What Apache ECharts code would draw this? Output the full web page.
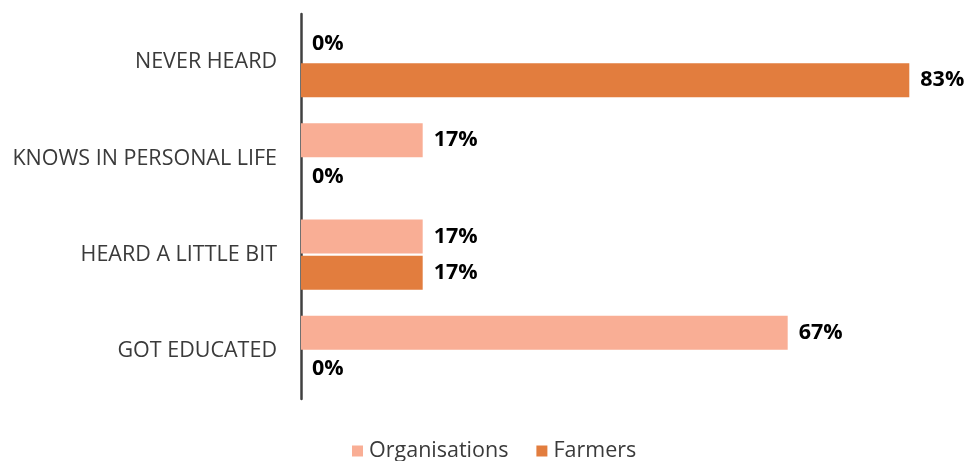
<!DOCTYPE html>
<html>
<head>
<meta charset="utf-8">
<script src="https://cdn.jsdelivr.net/npm/echarts@6/dist/echarts.min.js"></script>
<style>
html,body{margin:0;padding:0;background:#fff;}
#chart{width:965px;height:461px;}
</style>
</head>
<body>
<div id="chart"></div>
<script>
const categories = ['NEVER HEARD', 'KNOWS IN PERSONAL LIFE', 'HEARD A LITTLE BIT', 'GOT EDUCATED'];
const seriesNames = ['Organisations', 'Farmers'];
const organisations = [0, 16.67, 16.67, 66.67];
const farmers = [83.33, 0, 16.67, 0];

const chart = echarts.init(document.getElementById('chart'));
const labelStyle = {
  show: true,
  position: 'right',
  distance: 11,
  fontFamily: 'Open Sans',
  fontWeight: 'bold',
  fontSize: 21.5,
  color: '#000',
  formatter: p => Math.round(p.value) + '%'
};
chart.setOption({
  animation: false,
  grid: { left: 301, right: 7, top: 14, bottom: 62, containLabel: false },
  legend: {
    data: seriesNames,
    left: 347,
    top: 435,
    itemWidth: 11,
    itemHeight: 11,
    itemGap: 28,
    icon: 'rect',
    textStyle: { fontFamily: 'Open Sans', fontSize: 21.5, color: '#3a3a3a', padding: [0, 0, 0, 1] }
  },
  xAxis: {
    type: 'value', min: 0, max: 90,
    show: false,
    splitLine: { show: false }
  },
  yAxis: {
    type: 'category',
    data: categories,
    inverse: true,
    axisLine: { show: true, lineStyle: { color: '#404040', width: 2.5 } },
    axisTick: { show: false },
    axisLabel: { margin: 24, fontFamily: 'Open Sans', fontSize: 21.5, color: '#3a3a3a' }
  },
  series: [
    {
      name: seriesNames[0], type: 'bar', data: organisations,
      barWidth: 34, barGap: '6%',
      itemStyle: { color: '#F9AE95' },
      label: labelStyle
    },
    {
      name: seriesNames[1], type: 'bar', data: farmers,
      barWidth: 34, barGap: '6%',
      itemStyle: { color: '#E27D3E' },
      label: labelStyle
    }
  ]
});
</script>
</body>
</html>
